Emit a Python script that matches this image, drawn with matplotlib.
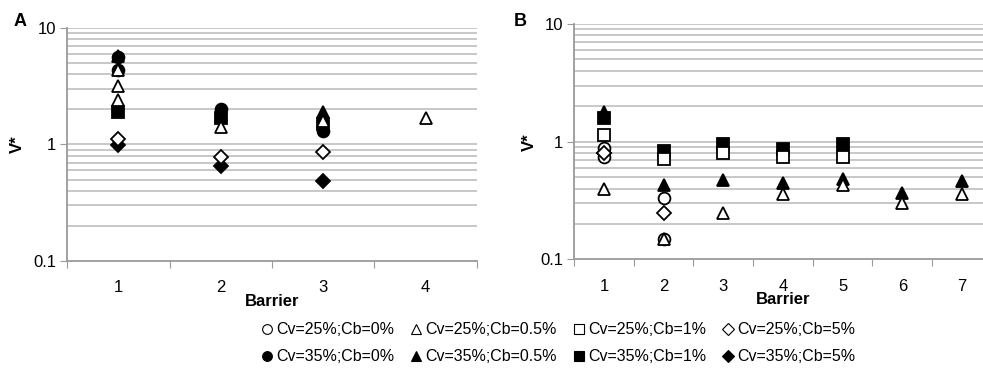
import matplotlib.pyplot as plt
from matplotlib.ticker import FixedLocator, NullFormatter, FixedFormatter

plt.rcParams['font.family'] = ['Liberation Sans', 'DejaVu Sans']

# Series labels, marker shape, filled or open
labels = ['Cv=25%;Cb=0%', 'Cv=25%;Cb=0.5%', 'Cv=25%;Cb=1%', 'Cv=25%;Cb=5%',
          'Cv=35%;Cb=0%', 'Cv=35%;Cb=0.5%', 'Cv=35%;Cb=1%', 'Cv=35%;Cb=5%']
markers = ['o', '^', 's', 'D', 'o', '^', 's', 'D']
filled = [False, False, False, False, True, True, True, True]

# Panel A: (barrier, V*) points per series
a_barrier = [
    [],                  # Cv25 Cb0
    [1, 1, 1, 2, 3, 4],  # Cv25 Cb0.5
    [],                  # Cv25 Cb1
    [1, 2, 3],           # Cv25 Cb5
    [1, 1, 2, 3],        # Cv35 Cb0
    [1, 2, 3],           # Cv35 Cb0.5
    [1, 2, 3],           # Cv35 Cb1
    [1, 2, 3],           # Cv35 Cb5
]
a_values = [
    [],
    [4.4, 3.2, 2.4, 1.4, 1.6, 1.7],
    [],
    [1.12, 0.78, 0.86],
    [5.6, 4.4, 2.0, 1.3],
    [5.8, 1.8, 1.9],
    [1.9, 1.7, 1.5],
    [0.99, 0.65, 0.49],
]

# Panel B
b_barrier = [
    [1, 1, 2, 2],
    [1, 2, 3, 4, 5, 6, 7],
    [1, 2, 3, 4, 5],
    [1, 2],
    [],
    [1, 2, 3, 4, 5, 6, 7],
    [1, 2, 3, 4, 5],
    [1],
]
b_values = [
    [0.88, 0.74, 0.33, 0.15],
    [0.40, 0.15, 0.25, 0.36, 0.43, 0.30, 0.36],
    [1.14, 0.71, 0.81, 0.74, 0.74],
    [0.80, 0.25],
    [],
    [1.78, 0.43, 0.47, 0.45, 0.48, 0.37, 0.46],
    [1.58, 0.84, 0.95, 0.86, 0.95],
    [0.80],
]

fig = plt.figure(figsize=(9.83, 3.76), dpi=100)
axA = fig.add_axes([0.0682, 0.306, 0.417, 0.6195])
axB = fig.add_axes([0.584, 0.310, 0.425, 0.626])

grid_col = '#c4c4c4'
spine_col = '#9a9a9a'


def style_axis(ax, ncat, ylabelpad):
    ax.set_yscale('log')
    ax.set_ylim(0.1, 10)
    ax.set_xlim(0.5, ncat + 0.5)
    grid_vals = [0.2, 0.3, 0.4, 0.5, 0.6, 0.7, 0.8, 0.9, 1,
                 2, 3, 4, 5, 6, 7, 8, 9, 10]
    for g in grid_vals:
        ax.axhline(g, color=grid_col, lw=1.3, zorder=0)
    ax.yaxis.set_major_locator(FixedLocator([0.1, 1, 10]))
    ax.yaxis.set_major_formatter(FixedFormatter(['0.1', '1', '10']))
    ax.yaxis.set_minor_locator(FixedLocator([]))
    ax.yaxis.set_minor_formatter(NullFormatter())
    # category ticks between barriers, labels at centres
    ax.set_xticks([i + 0.5 for i in range(ncat + 1)])
    ax.set_xticklabels([])
    ax.set_xticks(range(1, ncat + 1), minor=True)
    ax.set_xticklabels([str(i) for i in range(1, ncat + 1)], minor=True)
    ax.tick_params(axis='x', which='major', length=5, color=spine_col, direction='out')
    ax.tick_params(axis='x', which='minor', length=0, pad=14, labelsize=12)
    ax.tick_params(axis='y', which='major', length=5, color=spine_col, labelsize=12, pad=3)
    for s in ['top', 'right']:
        ax.spines[s].set_visible(False)
    for s in ['left', 'bottom']:
        ax.spines[s].set_color(spine_col)
        ax.spines[s].set_linewidth(1.3)
    ax.set_ylabel('V*', fontsize=12, fontweight='bold', labelpad=ylabelpad)
    ax.set_xlabel('Barrier', fontsize=12, fontweight='bold')
    ax.xaxis.set_label_coords(0.5, -0.14)


def draw(ax, xs, ys):
    for i in range(len(labels)):
        face = 'black' if filled[i] else 'white'
        size = 8.5
        if markers[i] == 'D':
            size = 7
        elif markers[i] == 's':
            size = 8
        ax.plot(xs[i], ys[i], linestyle='none', marker=markers[i],
                markersize=size, markerfacecolor=face,
                markeredgecolor='black', markeredgewidth=1.3,
                zorder=4 if not filled[i] else 3)


style_axis(axA, 4, 6)
style_axis(axB, 7, 2)
draw(axA, a_barrier, a_values)
draw(axB, b_barrier, b_values)

fig.text(0.014, 0.93, 'A', fontsize=13, fontweight='bold')
fig.text(0.523, 0.93, 'B', fontsize=13, fontweight='bold')

order = [0, 4, 1, 5, 2, 6, 3, 7]
leg_handles = []
for i in order:
    face = 'black' if filled[i] else 'white'
    h, = plt.plot([], [], linestyle='none', marker=markers[i],
                  markersize=7 if markers[i] != 'D' else 6,
                  markerfacecolor=face, markeredgecolor='black',
                  markeredgewidth=0.8, label=labels[i])
    leg_handles.append(h)
fig.legend(handles=leg_handles, loc='center', bbox_to_anchor=(0.568, 0.087),
           ncol=4, frameon=False, fontsize=11.5, handlelength=0.7,
           handletextpad=0.25, columnspacing=1.0, labelspacing=0.75)

fig.savefig('out.png', dpi=100)
